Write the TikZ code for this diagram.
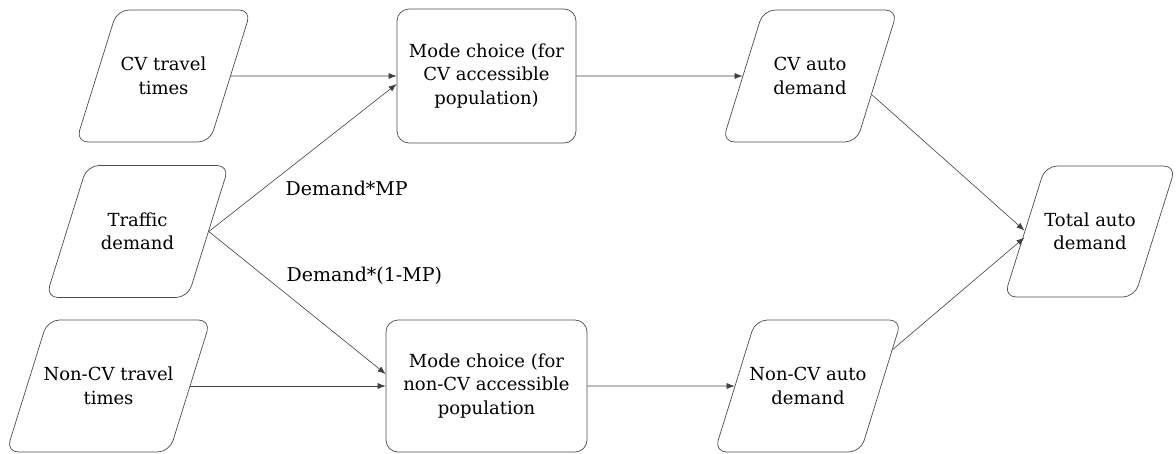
\documentclass[tikz,border=0pt]{standalone}
\usepackage{fontspec}
\setmainfont{DejaVu Serif}
\usetikzlibrary{shapes.geometric, positioning, calc, arrows.meta}

\begin{document}
\begin{tikzpicture}[
  every edge/.append style={->}, % makes the edges directed
  >={Latex[length=8pt, width=6pt]}, % filled arrow heads
  x=1pt, y=-1pt, % one unit per pixel, y runs downwards
  every node/.style={font=\fontsize{18}{23.5}\selectfont, align=center, text=black},
  data/.style={trapezium, trapezium left angle=47, trapezium right angle=133,
    trapezium stretches body, draw=black!70, line width=0.7pt, rounded corners=12pt,
    minimum width=175pt, minimum height=132pt}, % slanted input/output boxes
  choice/.style={rectangle, draw=black!70, line width=0.7pt, rounded corners=12pt,
    minimum width=179pt, minimum height=134pt}, % mode choice boxes
  lbl/.style={font=\fontsize{19}{23}\selectfont}, % edge labels
]
    \useasboundingbox (0,0) rectangle (1176,453);

    \node[data] (1) at (163.5,76) {CV travel\\times};
    \node[choice] (2) at (486.5,76) {Mode choice (for\\CV accessible\\population)};
    \node[data] (3) at (810,76) {CV auto\\demand};
    \node[data, minimum width=183pt] (4) at (137.5,231.5) {Traffic\\demand};
    \node[data, minimum width=193pt, inner xsep=-4pt] (5) at (108.5,386) {Non-CV travel\\times};
    \node[choice, minimum width=201pt, minimum height=132pt] (6) at (486.5,386) {Mode choice (for\\non-CV accessible\\population};
    \node[data, inner xsep=-6pt] (7) at (808,386) {Non-CV auto\\demand};
    \node[data, minimum width=166pt, minimum height=131pt, inner xsep=-1pt] (8) at (1090,231.5) {Total auto\\demand};

    \draw[line width=0.6pt, black!75] (1) edge (2)
    (4.east) edge node[lbl, pos=0.39, anchor=north west, yshift=-3pt]{Demand*MP} ([yshift=-8pt]2.west)
    (4.east) edge node[lbl, pos=0.42, anchor=south west, yshift=3pt]{Demand*(1-MP)} ([yshift=12pt]6.west)
    (5) edge (6)
    (2) edge (3)
    (6) edge (7)
    ($(3.east)!0.28!(3.bottom right corner)$) edge ([yshift=1pt]8.west)
    ($(7.east)!0.55!(7.top right corner)$) edge ([yshift=-6pt]8.west);
\end{tikzpicture}
\end{document}
